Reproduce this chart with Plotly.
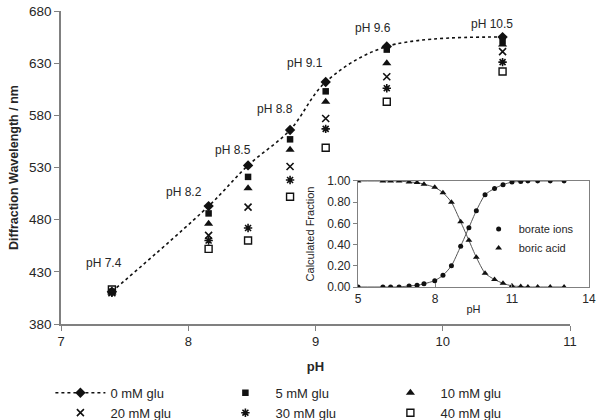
import plotly.graph_objects as go

# ---------------- data ----------------
ph_values = [7.4, 8.16, 8.47, 8.8, 9.08, 9.56, 10.47]
ph_labels = ["pH 7.4", "pH 8.2", "pH 8.5", "pH 8.8", "pH 9.1", "pH 9.6", "pH 10.5"]

glu_0 = [411, 493, 532, 566, 612, 646, 655]
glu_5 = [411, 486, 521, 557, 603, 643, 651]
glu_10 = [410, 476, 510, 547, 593, 630, 648]
glu_20 = [410, 465, 492, 531, 577, 617, 641]
glu_30 = [410, 460, 472, 518, 567, 606, 631]
glu_40 = [413, 452, 460, 502, 549, 593, 622]

inset_ph = [5.0, 5.97, 6.27, 6.6, 6.99, 7.3, 7.57, 7.99, 8.31, 8.64, 9.0,
            9.32, 9.61, 9.95, 10.32, 10.65, 11.0, 11.34, 11.62, 12.0, 12.49, 13.03]
borate_ions = [0.0, 0.0, 0.0, 0.0, 0.01, 0.016, 0.03, 0.06, 0.11, 0.20, 0.385,
               0.56, 0.72, 0.87, 0.93, 0.965, 0.99, 0.995, 1.0, 1.0, 1.0, 1.0]
boric_acid = [1.0, 1.0, 1.0, 1.0, 0.99, 0.985, 0.97, 0.94, 0.89, 0.80, 0.615,
              0.44, 0.28, 0.13, 0.07, 0.035, 0.01, 0.005, 0.0, 0.0, 0.0, 0.0]

main_ticks = [7, 8, 9, 10, 11]
wavelength_ticks = [380, 430, 480, 530, 580, 630, 680]
inset_xticks = [5, 8, 11, 14]
inset_yticks = [0, 0.2, 0.4, 0.6, 0.8, 1.0]

# ---------------- style ----------------
FONT = "Liberation Sans, Arial, sans-serif"
TXT = "#262626"
AX = "#808080"
BLK = "#111111"

fig = go.Figure()

fig.add_trace(go.Scatter(
    x=ph_values, y=glu_0, name="0 mM glu", mode="lines+markers",
    line=dict(color=BLK, dash="dot", width=1.6, shape="spline", smoothing=1.0),
    marker=dict(symbol="diamond", size=8, color=BLK), legend="legend"))
fig.add_trace(go.Scatter(
    x=ph_values, y=glu_5, name="5 mM glu", mode="markers",
    marker=dict(symbol="square", size=6.5, color=BLK), legend="legend"))
fig.add_trace(go.Scatter(
    x=ph_values, y=glu_10, name="10 mM glu", mode="markers",
    marker=dict(symbol="triangle-up", size=8, color=BLK), legend="legend"))
fig.add_trace(go.Scatter(
    x=ph_values, y=glu_20, name="20 mM glu", mode="markers",
    marker=dict(symbol="x-thin-open", size=7, color=BLK, line=dict(width=1.6, color=BLK)),
    legend="legend"))
fig.add_trace(go.Scatter(
    x=ph_values, y=glu_30, name="30 mM glu", mode="markers",
    marker=dict(symbol="asterisk-open", size=7, color=BLK, line=dict(width=1.6, color=BLK)),
    legend="legend"))
fig.add_trace(go.Scatter(
    x=ph_values, y=glu_40, name="40 mM glu", mode="markers",
    marker=dict(symbol="square-open", size=7, color=BLK, line=dict(width=1.4, color=BLK)),
    legend="legend"))

# inset traces: curves (no legend) + markers (legend)
fig.add_trace(go.Scatter(
    x=inset_ph, y=borate_ions, mode="lines", xaxis="x2", yaxis="y2", showlegend=False,
    line=dict(color="#555555", width=1, shape="spline", smoothing=0.6), hoverinfo="skip"))
fig.add_trace(go.Scatter(
    x=inset_ph, y=boric_acid, mode="lines", xaxis="x2", yaxis="y2", showlegend=False,
    line=dict(color="#555555", width=1, shape="spline", smoothing=0.6), hoverinfo="skip"))
fig.add_trace(go.Scatter(
    x=inset_ph, y=borate_ions, name="borate ions", mode="markers",
    xaxis="x2", yaxis="y2",
    marker=dict(symbol="circle", size=5, color=BLK), legend="legend2"))
fig.add_trace(go.Scatter(
    x=inset_ph, y=boric_acid, name="boric acid", mode="markers",
    xaxis="x2", yaxis="y2",
    marker=dict(symbol="triangle-up", size=6, color=BLK), legend="legend2"))

# labels above the 0 mM points
label_offsets_x = [-0.06, -0.19, -0.12, -0.12, -0.16, -0.11, -0.08]
label_offsets_y = [27, 14, 15, 20, 18, 18, 13]
for xv, yv, txt, dx, dy in zip(ph_values, glu_0, ph_labels, label_offsets_x, label_offsets_y):
    fig.add_annotation(x=xv + dx, y=yv + dy, text=txt, showarrow=False,
                       xref="x", yref="y", font=dict(family=FONT, size=12, color=TXT))

fig.update_layout(
    width=601, height=420,
    margin=dict(l=61, r=10, t=11, b=96, autoexpand=False),
    paper_bgcolor="white", plot_bgcolor="white",
    font=dict(family=FONT, size=13, color=TXT),
    showlegend=True,
    xaxis=dict(domain=[0, 0.9604], range=[7, 11], tickvals=main_ticks, automargin=False,
               showgrid=False, zeroline=False, showline=True, linecolor=AX, linewidth=1.5,
               ticks="outside", ticklen=5, tickcolor=AX, tickwidth=1.2,
               tickfont=dict(size=13, color=TXT),
               title=dict(text="<b>pH</b>", font=dict(size=13, color=TXT), standoff=14)),
    yaxis=dict(domain=[0, 1], range=[380, 680], tickvals=wavelength_ticks, automargin=False,
               showgrid=False, zeroline=False, showline=True, linecolor=AX, linewidth=1.5,
               ticks="outside", ticklen=5, tickcolor=AX, tickwidth=1.2,
               tickfont=dict(size=13.5, color=TXT),
               title=dict(text="<b>Diffraction Wavelength / nm</b>",
                          font=dict(size=12.5, color=TXT), standoff=8)),
    xaxis2=dict(domain=[0.5604, 0.9962], range=[5, 14], tickvals=inset_xticks, anchor="y2",
                automargin=False,
                showgrid=False, zeroline=False, showline=True, mirror=True,
                linecolor=AX, linewidth=1.2, ticks="inside", ticklen=4, tickcolor=AX,
                tickfont=dict(size=12, color=TXT),
                title=dict(text="pH", font=dict(size=11, color=TXT), standoff=0)),
    yaxis2=dict(domain=[0.1182, 0.4569], range=[0, 1], tickvals=inset_yticks, anchor="x2",
                tickformat=".2f", automargin=False,
                showgrid=False, zeroline=False, showline=True, mirror=True,
                linecolor=AX, linewidth=1.2, ticks="outside", ticklen=4, tickcolor=AX,
                tickfont=dict(size=12, color=TXT),
                title=dict(text="Calculated Fraction", font=dict(size=11, color=TXT), standoff=10)),
    legend=dict(orientation="h", x=-0.02, xanchor="left", y=-0.172, yanchor="top",
                entrywidth=100, entrywidthmode="pixels",
                font=dict(size=13, color=TXT), bgcolor="rgba(0,0,0,0)",
                itemwidth=50, tracegroupgap=0),
    legend2=dict(x=0.788, xanchor="left", y=0.35, yanchor="top",
                 font=dict(size=11, color=TXT), bgcolor="rgba(0,0,0,0)",
                 itemwidth=30, tracegroupgap=0),
)

fig.write_html("out.html", config={"displayModeBar": False},
               post_script="document.body.style.margin='0px';document.body.style.overflow='hidden';")
